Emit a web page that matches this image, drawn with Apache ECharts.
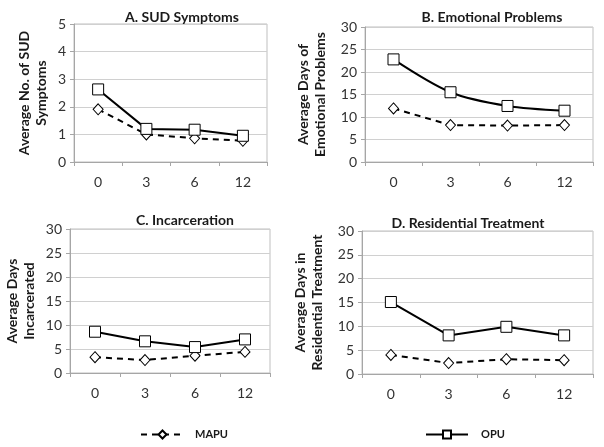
<!DOCTYPE html>
<html><head><meta charset="utf-8">
<script src="https://cdn.jsdelivr.net/npm/echarts@6/dist/echarts.min.js"></script>
<style>html,body{margin:0;padding:0;background:#fff}#c{width:604px;height:447px}</style>
</head><body><div id="c"></div>
<script>
const categories = ['0', '3', '6', '12'];
const panelTitles = ['A. SUD Symptoms', 'B. Emotional Problems', 'C. Incarceration', 'D. Residential Treatment'];
const yNames = ['Average No. of SUD\nSymptoms', 'Average Days of\nEmotional Problems', 'Average Days\nIncarcerated', 'Average Days in\nResidential Treatment'];
const yMax = [5, 30, 30, 30];
const yStep = [1, 5, 5, 5];
const sudOPU = [2.63, 1.2, 1.17, 0.95];
const sudMAPU = [1.91, 1.0, 0.86, 0.77];
const emoOPU = [22.8, 15.5, 12.45, 11.4];
const emoMAPU = [11.9, 8.2, 8.1, 8.2];
const incOPU = [8.6, 6.6, 5.4, 7.0];
const incMAPU = [3.3, 2.7, 3.6, 4.4];
const resOPU = [15.1, 8.1, 9.9, 8.1];
const resMAPU = [4.0, 2.3, 3.1, 2.9];

const opuData = [sudOPU, emoOPU, incOPU, resOPU];
const mapuData = [sudMAPU, emoMAPU, incMAPU, resMAPU];

const FONT = 'Lato';
const grids = [
  {left: 74, top: 24, width: 193, height: 138},
  {left: 365, top: 27, width: 228, height: 135},
  {left: 70, top: 229, width: 200, height: 144},
  {left: 362, top: 231, width: 231, height: 143}
];
const titlePos = [[177, 5], [487, 5], [180, 208], [463, 211]];
const nameGaps = [24, 36, 32, 36];
const smoothOPU = [false, 0.3, false, false];

const option = {
  animation: false,
  backgroundColor: '#fff',
  textStyle: {fontFamily: FONT},
  title: panelTitles.map((t, i) => ({
    text: t, left: titlePos[i][0], top: titlePos[i][1], textAlign: 'center',
    textStyle: {fontFamily: FONT, fontWeight: 'bold', fontSize: 14, color: '#1a1a1a'}
  })),
  legend: [
    {data: ['MAPU'], left: 135, top: 424, itemWidth: 43, itemHeight: 10, itemGap: 0,
     textStyle: {fontFamily: FONT, fontWeight: 'bold', fontSize: 11, color: '#1a1a1a', padding: [0, 0, 0, 6]}},
    {data: ['OPU'], left: 420, top: 424, itemWidth: 42, itemHeight: 10, itemGap: 0,
     textStyle: {fontFamily: FONT, fontWeight: 'bold', fontSize: 11, color: '#1a1a1a', padding: [0, 0, 0, 8]}}
  ],
  grid: grids.map(g => Object.assign({show: true, borderColor: '#bfbfbf', borderWidth: 1, containLabel: false}, g)),
  xAxis: grids.map((g, i) => ({
    type: 'category', gridIndex: i, data: categories, boundaryGap: true,
    axisLine: {lineStyle: {color: '#a6a6a6'}},
    axisTick: {show: true, length: 4, lineStyle: {color: '#a6a6a6'}},
    axisLabel: {fontFamily: FONT, fontSize: 14, color: '#333', margin: 13}
  })),
  yAxis: grids.map((g, i) => ({
    type: 'value', gridIndex: i, min: 0, max: yMax[i], interval: yStep[i],
    name: yNames[i], nameLocation: 'middle', nameRotate: 90, nameGap: nameGaps[i],
    nameTextStyle: {fontFamily: FONT, fontWeight: 'bold', fontSize: 14, color: '#1a1a1a', lineHeight: 17},
    axisLine: {show: true, lineStyle: {color: '#a6a6a6'}},
    axisTick: {show: true, length: 4, lineStyle: {color: '#a6a6a6'}},
    splitLine: {lineStyle: {color: '#d0d0d0'}},
    axisLabel: {fontFamily: FONT, fontSize: 14, color: '#333', margin: 8}
  })),
  series: []
};
for (let i = 0; i < 4; i++) {
  option.series.push({
    name: 'MAPU', type: 'line', xAxisIndex: i, yAxisIndex: i, data: mapuData[i],
    symbol: 'diamond', symbolSize: [10, 11],
    lineStyle: {color: '#000', width: 2, type: [6, 5]},
    itemStyle: {color: '#fff', borderColor: '#000', borderWidth: 1}
  });
  option.series.push({
    name: 'OPU', type: 'line', xAxisIndex: i, yAxisIndex: i, data: opuData[i],
    symbol: 'rect', symbolSize: 11, smooth: smoothOPU[i],
    lineStyle: {color: '#000', width: 2},
    itemStyle: {color: '#fff', borderColor: '#000', borderWidth: 1}
  });
}
const chart = echarts.init(document.getElementById('c'));
chart.setOption(option);
</script></body></html>
